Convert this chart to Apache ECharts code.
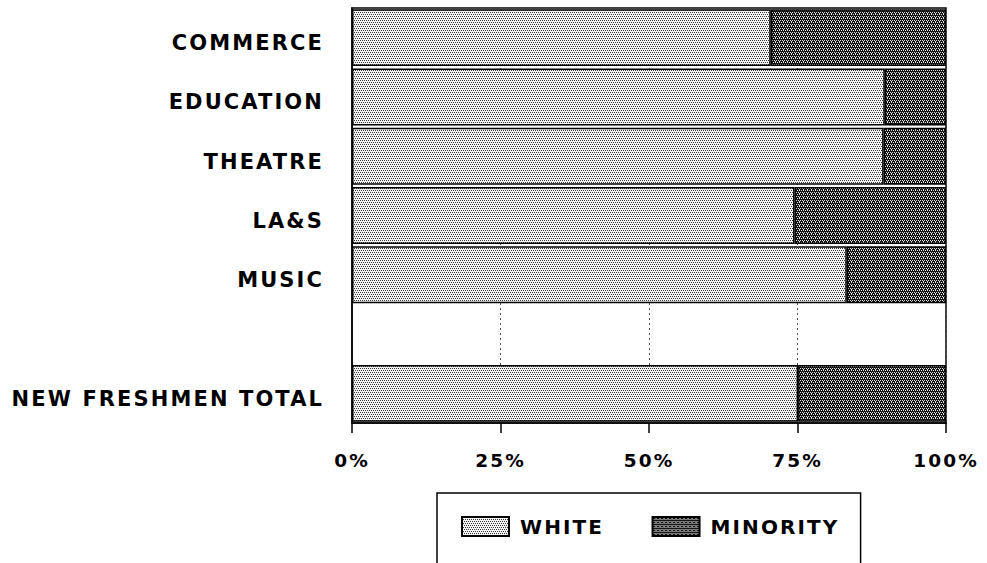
<!DOCTYPE html>
<html>
<head>
<meta charset="utf-8">
<script src="https://cdn.jsdelivr.net/npm/echarts@6/dist/echarts.min.js"></script>
<style>
html,body{margin:0;padding:0;background:#fff;}
#chart{width:987px;height:563px;}
#chart svg text{letter-spacing:2.1px;}
</style>
</head>
<body>
<div id="chart"></div>
<script>
// ---- data ----
const categories = ['COMMERCE', 'EDUCATION', 'THEATRE', 'LA&S', 'MUSIC', '', 'NEW FRESHMEN TOTAL'];
const whiteValues = [70.5, 89.7, 89.5, 74.5, 83.3, null, 75.1];
const minorityValues = [29.5, 10.3, 10.5, 25.5, 16.7, null, 24.9];
const tickValues = [0, 25, 50, 75, 100];
const tickLabels = ['0%', '25%', '50%', '75%', '100%'];
const seriesNames = ['WHITE', 'MINORITY'];

// ---- halftone-like fill patterns ----
function makePattern(bg, fg, pts, size) {
  const c = document.createElement('canvas');
  c.width = size; c.height = size;
  const ctx = c.getContext('2d');
  ctx.fillStyle = bg; ctx.fillRect(0, 0, size, size);
  ctx.fillStyle = fg;
  pts.forEach(p => ctx.fillRect(p[0], p[1], 1, 1));
  return { image: c, repeat: 'repeat', imageWidth: size, imageHeight: size };
}
const lightFill = makePattern('#f2f2f2', '#3a3a3a', [[0,0],[2,0],[1,2],[3,2]], 4);
const darkFill = makePattern('#151515', '#e0e0e0', [[0,0],[2,0],[1,2],[3,2],[3,1]], 4);

const FONT = 'DejaVu Sans';
const chart = echarts.init(document.getElementById('chart'), null, { renderer: 'svg' });

chart.setOption({
  backgroundColor: '#ffffff',
  animation: false,
  grid: {
    left: 352, right: 41, top: 8, bottom: 140,
    show: true, borderColor: '#000', borderWidth: 1.5, backgroundColor: '#fff'
  },
  legend: {
    left: 437, top: 493,
    padding: [23, 38, 60, 24],
    itemWidth: 47, itemHeight: 19, itemGap: 58,
    borderColor: '#000', borderWidth: 1.5, backgroundColor: '#fff',
    icon: 'rect',
    selectedMode: false,
    textStyle: { fontFamily: FONT, fontWeight: 'bold', fontSize: 20, color: '#000', padding: [0, 0, 0, 6] },
    data: seriesNames
  },
  xAxis: {
    type: 'value', min: tickValues[0], max: tickValues[tickValues.length - 1], interval: 25,
    axisLine: { show: true, lineStyle: { color: '#000', width: 1.5 } },
    axisTick: { show: true, inside: false, length: 10, lineStyle: { color: '#000', width: 1.5 } },
    axisLabel: {
      margin: 28, color: '#000', fontFamily: FONT, fontWeight: 'bold', fontSize: 18.5,
      formatter: v => tickLabels[tickValues.indexOf(v)]
    },
    splitLine: { show: true, lineStyle: { color: '#555', width: 1, type: [2, 3] } }
  },
  yAxis: {
    type: 'category', data: categories, inverse: true,
    axisLine: { show: true, lineStyle: { color: '#000', width: 1.5 } },
    axisTick: { show: false },
    axisLabel: {
      margin: 28, color: '#000', fontFamily: FONT, fontWeight: 'bold', fontSize: 21,
      verticalAlign: 'top', lineHeight: 11
    }
  },
  series: [
    {
      name: seriesNames[0], type: 'bar', stack: 'total', data: whiteValues,
      barCategoryGap: '4%',
      itemStyle: { color: lightFill, borderColor: '#000', borderWidth: 1.5 }
    },
    {
      name: seriesNames[1], type: 'bar', stack: 'total', data: minorityValues,
      barCategoryGap: '4%',
      itemStyle: { color: darkFill, borderColor: '#000', borderWidth: 1.5 }
    }
  ]
});
</script>
</body>
</html>
